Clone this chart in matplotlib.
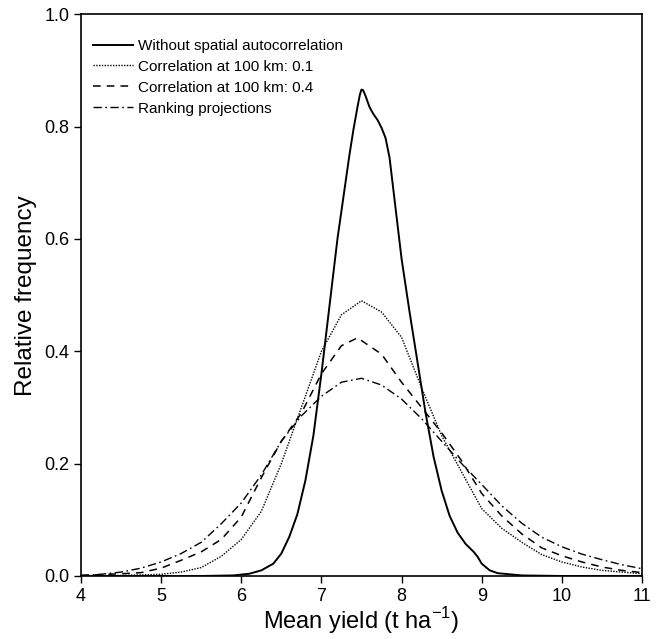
import matplotlib
matplotlib.use("Agg")
import matplotlib.pyplot as plt

plt.rcParams['font.family'] = ['Liberation Sans', 'DejaVu Sans']

# Without spatial autocorrelation
x_solid = [4.0, 5.5, 5.9, 6.1, 6.25, 6.4, 6.5, 6.6, 6.7, 6.8, 6.9, 7.0, 7.1, 7.2, 7.3, 7.35, 7.4,
           7.45, 7.48, 7.5, 7.52, 7.55, 7.6, 7.65, 7.7, 7.75, 7.8, 7.85, 7.9, 7.95, 8.0, 8.1, 8.2,
           8.3, 8.4, 8.5, 8.6, 8.7, 8.8, 8.9, 8.95, 9.0, 9.1, 9.2, 9.5, 10.0, 11.0]
y_solid = [0.0, 0.0, 0.001, 0.004, 0.01, 0.022, 0.04, 0.07, 0.11, 0.17, 0.25, 0.36, 0.48, 0.60, 0.70, 0.75, 0.795,
           0.835, 0.857, 0.866, 0.865, 0.855, 0.835, 0.822, 0.812, 0.798, 0.78, 0.745, 0.685, 0.625, 0.565, 0.47, 0.38,
           0.29, 0.212, 0.152, 0.107, 0.077, 0.057, 0.043, 0.034, 0.022, 0.01, 0.005, 0.001, 0.0, 0.0]

# Correlation at 100 km: 0.1
x_c01 = [4.0, 4.5, 5.0, 5.25, 5.5, 5.75, 6.0, 6.25, 6.5, 6.75, 7.0, 7.25, 7.5, 7.75, 8.0, 8.25,
         8.5, 8.75, 9.0, 9.25, 9.5, 9.75, 10.0, 10.25, 10.5, 10.75, 11.0]
y_c01 = [0.0, 0.001, 0.003, 0.007, 0.015, 0.035, 0.065, 0.115, 0.20, 0.30, 0.40, 0.465, 0.49, 0.47, 0.425, 0.335,
         0.25, 0.185, 0.12, 0.085, 0.06, 0.038, 0.025, 0.016, 0.01, 0.007, 0.004]

# Correlation at 100 km: 0.4
x_c04 = [4.0, 4.5, 4.75, 5.0, 5.25, 5.5, 5.75, 6.0, 6.25, 6.5, 6.75, 7.0, 7.25, 7.45, 7.75, 8.0,
         8.25, 8.5, 8.75, 9.0, 9.25, 9.5, 9.75, 10.0, 10.25, 10.5, 10.75, 11.0]
y_c04 = [0.001, 0.004, 0.006, 0.014, 0.028, 0.043, 0.065, 0.105, 0.175, 0.24, 0.29, 0.36, 0.41, 0.424, 0.395, 0.345,
         0.30, 0.255, 0.205, 0.147, 0.107, 0.075, 0.05, 0.036, 0.025, 0.016, 0.01, 0.006]

# Ranking projections
x_rank = [4.0, 4.25, 4.5, 4.75, 5.0, 5.25, 5.5, 5.75, 6.0, 6.25, 6.5, 6.75, 7.0, 7.25, 7.5, 7.75,
          8.0, 8.25, 8.5, 8.75, 9.0, 9.25, 9.5, 9.75, 10.0, 10.25, 10.5, 10.75, 11.0]
y_rank = [0.001, 0.003, 0.007, 0.014, 0.025, 0.04, 0.06, 0.093, 0.13, 0.18, 0.24, 0.285, 0.32, 0.345, 0.352, 0.34,
          0.315, 0.28, 0.24, 0.20, 0.163, 0.125, 0.094, 0.069, 0.052, 0.039, 0.029, 0.02, 0.013]

labels = ["Without spatial autocorrelation", "Correlation at 100 km: 0.1",
          "Correlation at 100 km: 0.4", "Ranking projections"]
x_ticks = [4, 5, 6, 7, 8, 9, 10, 11]
y_ticks = [0.0, 0.2, 0.4, 0.6, 0.8, 1.0]

fig = plt.figure(figsize=(6.6, 6.39), dpi=100)
ax = fig.add_axes([0.1227, 0.0986, 0.850, 0.879])

ax.plot(x_solid, y_solid, color='black', lw=1.4, linestyle='-', label=labels[0])
ax.plot(x_c01, y_c01, color='black', lw=1.0, linestyle=(0, (1, 1)), label=labels[1])
ax.plot(x_c04, y_c04, color='black', lw=1.1, linestyle=(0, (5, 4)), label=labels[2])
ax.plot(x_rank, y_rank, color='black', lw=1.0, linestyle=(0, (6, 2.5, 1.2, 2.5)), label=labels[3])

ax.set_xlim(4, 11)
ax.set_ylim(0, 1.0)
ax.set_xticks(x_ticks)
ax.set_xticklabels([str(t) for t in x_ticks])
ax.set_yticks(y_ticks)
ax.set_yticklabels([f"{t:.1f}" for t in y_ticks])
ax.tick_params(direction='out', length=5, width=1, labelsize=13, colors='black')
for s in ax.spines.values():
    s.set_linewidth(1.2)

ax.set_xlabel("Mean yield (t ha$^{\\mathregular{-1}}$)", fontsize=17, labelpad=0)
ax.set_ylabel("Relative frequency", fontsize=17.5, labelpad=5)

ax.legend(loc='upper left', frameon=False, fontsize=11, handlelength=2.6,
          handletextpad=0.35, labelspacing=0.45, borderaxespad=0.4,
          bbox_to_anchor=(0.0, 0.978))

fig.savefig("out.png", dpi=100)
